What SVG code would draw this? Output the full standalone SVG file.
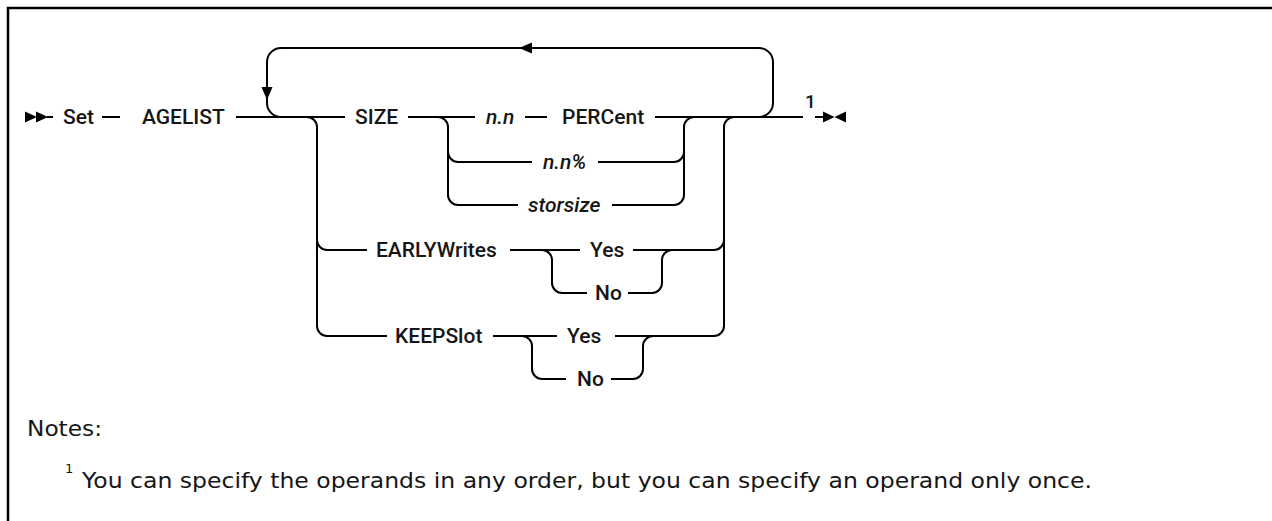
<svg xmlns="http://www.w3.org/2000/svg" width="1272" height="521" viewBox="0 0 1272 521">
  <style>
    .t { font-family: Roboto, "Liberation Sans", Arial, sans-serif; font-size: 21px; font-weight: 500; fill: #161616; }
    .i { font-style: italic; }
    .ln { fill: none; stroke: #000; stroke-width: 2; }
    .ah { fill: #000; stroke: none; }
    .note { font-family: "DejaVu Sans", sans-serif; font-size: 22px; fill: #161616; }
    .sup { font-family: "DejaVu Sans", sans-serif; font-size: 13px; fill: #161616; }
    .supb { font-family: Roboto, "Liberation Sans", Arial, sans-serif; font-size: 19px; font-weight: 500; fill: #161616; }
  </style>
  <rect x="0" y="0" width="1272" height="521" fill="#fff"/>
  <path d="M8,521 V8 H1272" fill="none" stroke="#000" stroke-width="2.5"/>

  <g id="connectors">
    <!-- start marker -->
    <polygon class="ah" points="25,111.5 37,117 25,122.5"/>
    <polygon class="ah" points="36,111.5 48,117 36,122.5"/>
    <path class="ln" d="M47,117 H53"/>
    <path class="ln" d="M102,117 H120"/>
    <path class="ln" d="M236,117 H345"/>
    <path class="ln" d="M408,117 H475"/>
    <path class="ln" d="M525,117 H547"/>
    <path class="ln" d="M655,117 H803"/>
    <path class="ln" d="M815,117 H827"/>
    <!-- end marker -->
    <polygon class="ah" points="823,111.5 834.5,117 823,122.5"/>
    <polygon class="ah" points="846,111.5 834.5,117 846,122.5"/>

    <!-- repeat loop -->
    <path class="ln" d="M281,117 A14,14 0 0 1 267,103 V62 A14,14 0 0 1 281,48 H759 A14,14 0 0 1 773,62 V103 A14,14 0 0 1 759,117"/>
    <polygon class="ah" points="261.5,87 272.5,87 267,100"/>
    <polygon class="ah" points="519,48 532,42.5 532,53.5"/>

    <!-- main choice -->
    <path class="ln" d="M307,117 A10,10 0 0 1 317,127 V326 A10,10 0 0 0 327,336 H387"/>
    <path class="ln" d="M317,240 A10,10 0 0 0 327,250 H367"/>
    <path class="ln" d="M734,117 A10,10 0 0 0 724,127 V326 A10,10 0 0 1 714,336 H615"/>
    <path class="ln" d="M633,250 H714 A10,10 0 0 0 724,240"/>

    <!-- SIZE sub-choice -->
    <path class="ln" d="M438,117 A10,10 0 0 1 448,127 V195 A10,10 0 0 0 458,205 H518"/>
    <path class="ln" d="M448,152 A10,10 0 0 0 458,162 H532"/>
    <path class="ln" d="M694,117 A10,10 0 0 0 684,127 V195 A10,10 0 0 1 674,205 H612"/>
    <path class="ln" d="M598,162 H674 A10,10 0 0 0 684,152"/>

    <!-- EARLYWrites sub-choice -->
    <path class="ln" d="M510,250 H580"/>
    <path class="ln" d="M542,250 A10,10 0 0 1 552,260 V283 A10,10 0 0 0 562,293 H587"/>
    <path class="ln" d="M672,250 A10,10 0 0 0 662,260 V283 A10,10 0 0 1 652,293 H628"/>

    <!-- KEEPSlot sub-choice -->
    <path class="ln" d="M493,336 H557"/>
    <path class="ln" d="M522,336 A10,10 0 0 1 532,346 V369 A10,10 0 0 0 542,379 H566"/>
    <path class="ln" d="M653,336 A10,10 0 0 0 643,346 V369 A10,10 0 0 1 633,379 H611"/>
  </g>

  <g id="n-set"><text class="t" x="63" y="124">Set</text></g>
  <g id="n-agelist"><text class="t" x="142" y="124">AGELIST</text></g>
  <g id="n-size"><text class="t" x="355" y="124">SIZE</text></g>
  <g id="n-nn"><text class="t i" x="486" y="124">n.n</text></g>
  <g id="n-percent"><text class="t" x="562" y="124">PERCent</text></g>
  <g id="n-nnpct"><text class="t i" x="543" y="169">n.n%</text></g>
  <g id="n-storsize"><text class="t i" x="528" y="212">storsize</text></g>
  <g id="n-earlywrites"><text class="t" x="376" y="257">EARLYWrites</text></g>
  <g id="n-ew-yes"><text class="t" x="590" y="257">Yes</text></g>
  <g id="n-ew-no"><text class="t" x="595" y="300">No</text></g>
  <g id="n-keepslot"><text class="t" x="395" y="343">KEEPSlot</text></g>
  <g id="n-ks-yes"><text class="t" x="567" y="343">Yes</text></g>
  <g id="n-ks-no"><text class="t" x="577" y="386">No</text></g>
  <g id="n-ref1"><text class="supb" x="805" y="108">1</text></g>

  <g id="notes">
    <text class="note" x="27" y="436" textLength="75" lengthAdjust="spacingAndGlyphs">Notes:</text>
    <text class="sup" x="65" y="473">1</text>
    <text class="note" x="82" y="488" textLength="1010" lengthAdjust="spacingAndGlyphs">You can specify the operands in any order, but you can specify an operand only once.</text>
  </g>
</svg>
